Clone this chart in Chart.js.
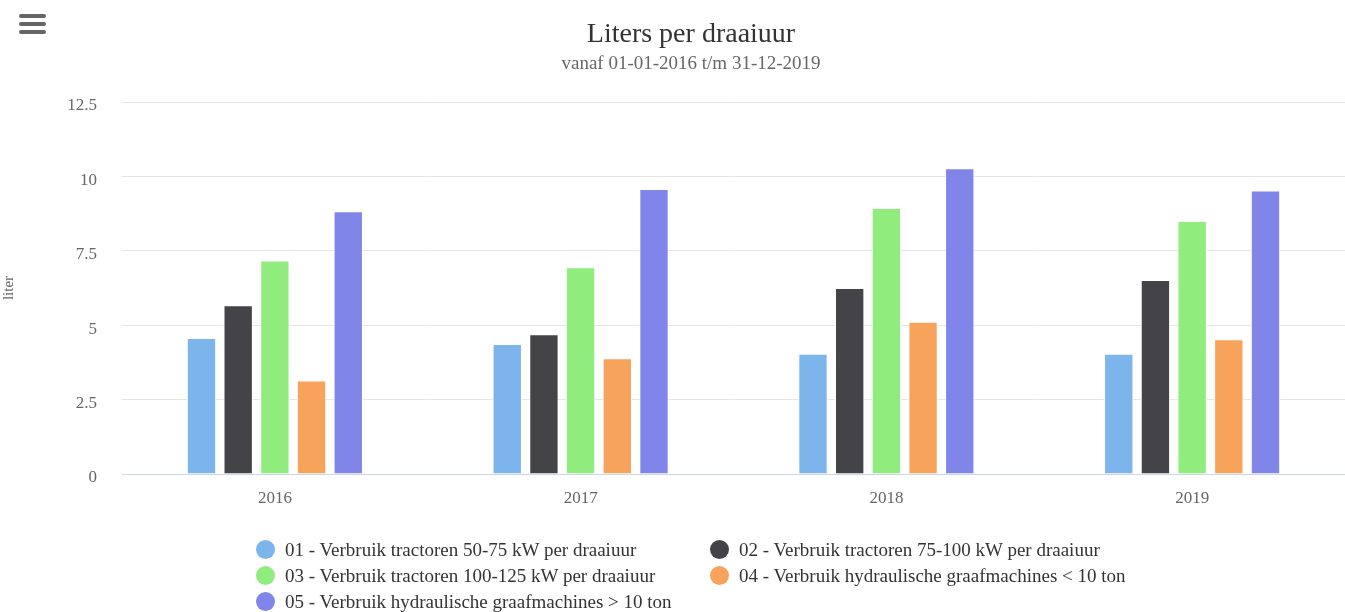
<!DOCTYPE html>
<html>
<head>
<meta charset="utf-8">
<script src="https://cdn.jsdelivr.net/npm/chart.js@4"></script>
<style>
  html, body { margin: 0; padding: 0; background: #fff; }
  #wrap { position: relative; width: 1345px; height: 612px; overflow: hidden; font-family: "Liberation Serif", "Times New Roman", serif; }
  #chart { position: absolute; left: 0; top: 0; }
  #menu { position: absolute; left: 19px; top: 14px; width: 27px; }
  #menu div { height: 4px; background: #666; border-radius: 2px; margin-bottom: 4px; }
  #title { position: absolute; left: 0; width: 1382px; top: 17px; text-align: center; font-size: 28px; color: #333; }
  #subtitle { position: absolute; left: 0; width: 1382px; top: 52px; text-align: center; font-size: 19px; color: #666; }
  #legend { position: absolute; left: 256px; top: 538px; display: grid; grid-template-columns: 454px 420px; row-gap: 3px; }
  .item { display: flex; align-items: center; height: 23px; font-size: 19px; color: #333; white-space: nowrap; }
  .dot { width: 19px; height: 19px; border-radius: 50%; margin-right: 10px; flex: none; }
</style>
</head>
<body>
<div id="wrap">
  <canvas id="chart"></canvas>
  <div id="menu"><div></div><div></div><div></div></div>
  <div id="title">Liters per draaiuur</div>
  <div id="subtitle">vanaf 01-01-2016 t/m 31-12-2019</div>
  <div id="legend"></div>
</div>
<script>
// Data
const years = ['2016', '2017', '2018', '2019'];

const seriesNames = [
  '01 - Verbruik tractoren 50-75 kW per draaiuur',
  '02 - Verbruik tractoren 75-100 kW per draaiuur',
  '03 - Verbruik tractoren 100-125 kW per draaiuur',
  '04 - Verbruik hydraulische graafmachines < 10 ton',
  '05 - Verbruik hydraulische graafmachines > 10 ton'
];

const tractors50to75 = [4.57, 4.37, 4.04, 4.04];
const tractors75to100 = [5.67, 4.70, 6.25, 6.52];
const tractors100to125 = [7.17, 6.95, 8.94, 8.50];
const excavatorsSmall = [3.14, 3.89, 5.12, 4.53];
const excavatorsLarge = [8.83, 9.58, 10.27, 9.53];

const seriesColors = ['#7cb5ec', '#434348', '#90ed7d', '#f7a35c', '#8085e9'];

const yTicks = [0, 2.5, 5, 7.5, 10, 12.5];

const seriesValues = [tractors50to75, tractors75to100, tractors100to125, excavatorsSmall, excavatorsLarge];

const datasets = seriesValues.map((values, i) => ({
  label: seriesNames[i],
  data: values,
  backgroundColor: seriesColors[i],
  borderColor: '#ffffff',
  borderWidth: 1,
  categoryPercentage: 0.6,
  barPercentage: 0.8
}));

// HTML legend, two columns like the original
const legend = document.getElementById('legend');
seriesNames.forEach((name, i) => {
  const item = document.createElement('div');
  item.className = 'item';
  const dot = document.createElement('span');
  dot.className = 'dot';
  dot.style.background = seriesColors[i];
  const text = document.createElement('span');
  text.textContent = name;
  item.appendChild(dot);
  item.appendChild(text);
  legend.appendChild(item);
});

const canvas = document.getElementById('chart');
canvas.width = 1345;
canvas.height = 612;

const serif = '"Liberation Serif", "Times New Roman", serif';

new Chart(canvas, {
  type: 'bar',
  data: { labels: years, datasets: datasets },
  options: {
    responsive: false,
    animation: false,
    layout: { padding: { top: 102, bottom: 98, left: 0, right: 0 } },
    plugins: {
      legend: { display: false },
      tooltip: { enabled: false }
    },
    scales: {
      x: {
        grid: { display: false },
        border: { display: true, color: '#ccd6eb', width: 1 },
        ticks: { color: '#666', padding: 6, font: { family: serif, size: 17 } },
        afterFit: (scale) => { scale.height = 40; }
      },
      y: {
        min: 0,
        max: 12.5,
        afterBuildTicks: (scale) => { scale.ticks = yTicks.map((v) => ({ value: v })); },
        grid: {
          drawTicks: false,
          color: (ctx) => ctx.tick && ctx.tick.value === 0 ? 'transparent' : '#e6e6e6'
        },
        border: { display: false },
        ticks: { color: '#666', padding: 25, labelOffset: 4, font: { family: serif, size: 17 } },
        title: { display: true, text: 'liter', color: '#666', padding: 0, font: { family: serif, size: 15 } },
        afterFit: (scale) => { scale.width = 122; }
      }
    }
  }
});
</script>
</body>
</html>
